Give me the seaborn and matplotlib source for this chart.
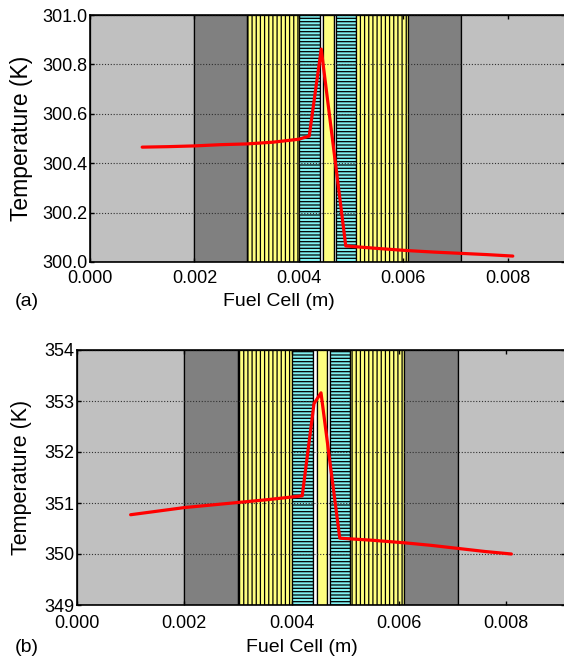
import numpy as np
import pandas as pd
import matplotlib
matplotlib.use("Agg")
import matplotlib.pyplot as plt
from matplotlib.ticker import FormatStrFormatter, MultipleLocator
import seaborn as sns

# Layer boundaries through the cell (m) and their fills
layer_edges = [0.0, 0.002, 0.003, 0.004, 0.00440, 0.00447, 0.00467, 0.00471,
               0.0051, 0.0061, 0.0071, 0.0095]
layer_colors = ["#c0c0c0", "#808080", "#ffff80", "#80f0f0", "#ffffff", "#ffff80",
                "#ffffff", "#80f0f0", "#ffff80", "#808080", "#c0c0c0"]
layer_hatch = [None, None, "||||", "-----", None, None,
               None, "-----", "||||", None, None]

# Temperature profile, panel (a)
x_a = [0.0010, 0.0015, 0.0020, 0.0025, 0.0030, 0.0035, 0.0040, 0.0042,
       0.00443, 0.0049, 0.0055, 0.0061, 0.0066, 0.0071, 0.0076, 0.0081]
t_a = [300.465, 300.467, 300.470, 300.475, 300.478, 300.485, 300.497, 300.510,
       300.862, 300.065, 300.055, 300.046, 300.040, 300.035, 300.030, 300.024]

# Temperature profile, panel (b)
x_b = [0.0010, 0.0020, 0.0030, 0.0035, 0.0042, 0.00442, 0.00455, 0.0049,
       0.0055, 0.0061, 0.0066, 0.0071, 0.0076, 0.0081]
t_b = [350.77, 350.91, 351.01, 351.06, 351.14, 352.95, 353.16, 350.31,
       350.27, 350.22, 350.17, 350.11, 350.05, 350.00]

x_ticks = [0.000, 0.002, 0.004, 0.006, 0.008]

sns.set_theme(style="ticks")
plt.rcParams["font.family"] = ["Liberation Sans", "DejaVu Sans"]
plt.rcParams["text.color"] = "black"
plt.rcParams["axes.labelcolor"] = "black"
plt.rcParams["hatch.linewidth"] = 0.9
plt.rcParams["hatch.color"] = "black"

fig = plt.figure(figsize=(5.64, 6.64), dpi=100)
W, H = 564, 664


def add_axes_px(left, top, right, bottom):
    return fig.add_axes([left / W, 1 - bottom / H, (right - left) / W, (bottom - top) / H])


def draw_panel(ax, x, t, ylim, ystep, yfmt, tag, xlabel_px, tag_y_px, ylabel_size, xpad):
    for i in range(len(layer_colors)):
        ax.axvspan(layer_edges[i], layer_edges[i + 1], facecolor=layer_colors[i],
                   edgecolor="black", linewidth=0.9, hatch=layer_hatch[i], zorder=1)
    df = pd.DataFrame({"x": x, "T": t})
    sns.lineplot(data=df, x="x", y="T", ax=ax, color="#ff0000", linewidth=2.3,
                 estimator=None, sort=False, zorder=4)
    ax.set_xlim(0, 0.0091)
    ax.set_ylim(*ylim)
    ax.set_xticks(x_ticks)
    ax.yaxis.set_major_locator(MultipleLocator(ystep))
    ax.xaxis.set_major_formatter(FormatStrFormatter("%.3f"))
    ax.yaxis.set_major_formatter(FormatStrFormatter(yfmt))
    ax.set_axisbelow(False)
    ax.grid(axis="y", color="#303030", linestyle=(0, (1, 1.6)), linewidth=0.8, zorder=2)
    ax.grid(axis="x", visible=False)
    ax.tick_params(direction="in", top=True, right=True, length=3, width=1,
                   labelsize=13, colors="black")
    ax.tick_params(axis="y", pad=2)
    ax.tick_params(axis="x", pad=xpad)
    for s in ax.spines.values():
        s.set_linewidth(1.2)
        s.set_color("black")
        s.set_zorder(5)
    ax.set_xlabel("Fuel Cell (m)", fontsize=14)
    ax.set_ylabel("Temperature (K)", fontsize=ylabel_size)
    ax.xaxis.set_label_coords(xlabel_px / W, 1 - tag_y_px / H, transform=fig.transFigure)
    ax.xaxis.label.set_va("center")
    pos = ax.get_position()
    ax.yaxis.set_label_coords(22 / W, pos.y0 + pos.height / 2, transform=fig.transFigure)
    ax.yaxis.label.set_va("center")
    ax.yaxis.label.set_ha("center")
    fig.text(15 / W, 1 - tag_y_px / H, tag, fontsize=14, ha="left", va="center")


ax_a = add_axes_px(90, 15, 565, 262)
ax_b = add_axes_px(77, 350, 565, 605)

draw_panel(ax_a, x_a, t_a, (300.0, 301.0), 0.2, "%.1f", "(a)", 279, 302, 16.5, 5.5)
draw_panel(ax_b, x_b, t_b, (349, 354), 1, "%d", "(b)", 302, 647, 15.5, 7)

fig.savefig("out.png", dpi=100)
